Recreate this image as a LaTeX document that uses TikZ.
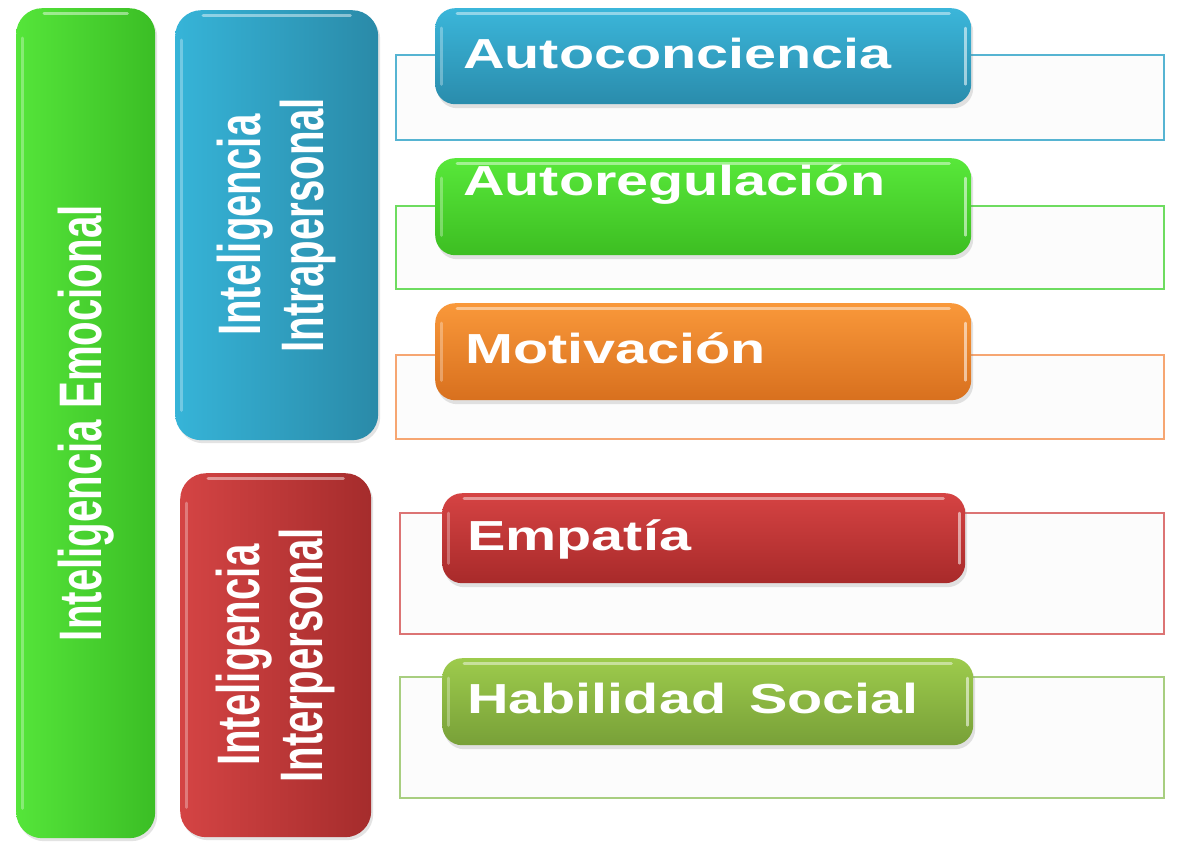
\documentclass[tikz,border=0pt]{standalone}
\usepackage{fontspec}
\newfontfamily\vfont[FakeStretch=0.67]{Liberation Sans}
\newfontfamily\hfont[FakeStretch=1.37]{Liberation Sans}
\usetikzlibrary{calc,shadows}
\definecolor{emoL}{HTML}{55E53A}\definecolor{emoR}{HTML}{3BBE25}
\definecolor{intraL}{HTML}{36B4D8}\definecolor{intraR}{HTML}{2A8AA8}
\definecolor{interL}{HTML}{D44444}\definecolor{interR}{HTML}{A52C2C}
\definecolor{c1T}{HTML}{3BB6DA}\definecolor{c1B}{HTML}{2A8CAC}
\definecolor{c2T}{HTML}{58E83A}\definecolor{c2B}{HTML}{3DBE22}
\definecolor{c3T}{HTML}{F9983A}\definecolor{c3B}{HTML}{D8701E}
\definecolor{c4T}{HTML}{D54343}\definecolor{c4B}{HTML}{A82A2A}
\definecolor{c5T}{HTML}{9DCB4C}\definecolor{c5B}{HTML}{78A038}
\definecolor{o1}{HTML}{56B4D2}\definecolor{o2}{HTML}{6EDC60}
\definecolor{o3}{HTML}{F6A672}\definecolor{o4}{HTML}{DC7474}
\definecolor{o5}{HTML}{A8CE80}
\tikzset{
  vbox/.style={draw=none, rounded corners=26pt, anchor=north west, inner sep=0pt,
    drop shadow={shadow xshift=2pt, shadow yshift=-3pt, opacity=0.22}},
  hbox/.style={draw=none, rounded corners=20pt, anchor=north west, inner sep=0pt,
    drop shadow={shadow xshift=2pt, shadow yshift=-4pt, opacity=0.22}},
  vtext/.style={text=white, rotate=90, align=center, inner sep=0pt,
    font=\vfont\bfseries\fontsize{60}{63}\selectfont},
  htext/.style={text=white, anchor=base west, inner sep=0pt,
    font=\hfont\bfseries\fontsize{42}{48}\selectfont},
  frame/.style={line width=1.4pt, fill=white!98!gray},
  shine/.style={white, opacity=0.45, line width=3pt, line cap=round},
}
\begin{document}
\begin{tikzpicture}[x=1pt,y=-1pt]
\useasboundingbox (0,0) rectangle (1180,854);
\fill[white] (0,0) rectangle (1180,854);

% frames behind the item boxes
\draw[frame, draw=o1] (396,55) rectangle (1164,140);
\draw[frame, draw=o2] (396,206) rectangle (1164,289);
\draw[frame, draw=o3] (396,355) rectangle (1164,439);
\draw[frame, draw=o4] (400,513) rectangle (1164,634);
\draw[frame, draw=o5] (400,677) rectangle (1164,798);

% vertical boxes
\node[vbox, left color=emoL, right color=emoR, minimum width=139pt, minimum height=830pt] (emo) at (16,8) {};
\node[vbox, left color=intraL, right color=intraR, minimum width=203pt, minimum height=430pt] (intra) at (175,10) {};
\node[vbox, left color=interL, right color=interR, minimum width=191pt, minimum height=364pt] (inter) at (180,473) {};
\foreach \b in {emo,intra,inter}{
  \draw[shine] ($(\b.north west)+(28,5)$) -- ($(\b.north east)+(-28,5)$);
  \draw[shine, opacity=0.3] ($(\b.north west)+(6,30)$) -- ($(\b.south west)+(6,-30)$);
}
\node[vtext] (emoT) at (emo.center) {Inteligencia Emocional};
\node[vtext] (intraT) at (intra.center) {Inteligencia\\Intrapersonal};
\node[vtext] (interT) at (inter.center) {Inteligencia\\Interpersonal};

% item boxes
\node[hbox, top color=c1T, bottom color=c1B, minimum width=536pt, minimum height=96pt] (b1) at (435,8) {};
\node[hbox, top color=c2T, bottom color=c2B, minimum width=536pt, minimum height=97pt] (b2) at (435,158) {};
\node[hbox, top color=c3T, bottom color=c3B, minimum width=536pt, minimum height=97pt] (b3) at (435,303) {};
\node[hbox, top color=c4T, bottom color=c4B, minimum width=523pt, minimum height=90pt] (b4) at (442,493) {};
\node[hbox, top color=c5T, bottom color=c5B, minimum width=531pt, minimum height=87pt] (b5) at (442,658) {};
\foreach \b in {b1,b2,b3,b4,b5}{
  \draw[shine] ($(\b.north west)+(22,5)$) -- ($(\b.north east)+(-22,5)$);
  \draw[shine, opacity=0.55, line width=2.5pt] ($(\b.north east)+(-6,20)$) -- ($(\b.south east)+(-6,-20)$);
  \draw[shine, opacity=0.3] ($(\b.north west)+(6,20)$) -- ($(\b.south west)+(6,-20)$);
}
\node[htext] (t1) at (463,68) {Autoconciencia};
\node[htext] (t2) at (463,195) {Autoregulación};
\node[htext] (t3) at (465,363) {Motivación};
\node[htext] (t4) at (467,550) {Empatía};
\node[htext] (t5) at (467,713) {Habilidad\, Social};
\end{tikzpicture}
\end{document}
